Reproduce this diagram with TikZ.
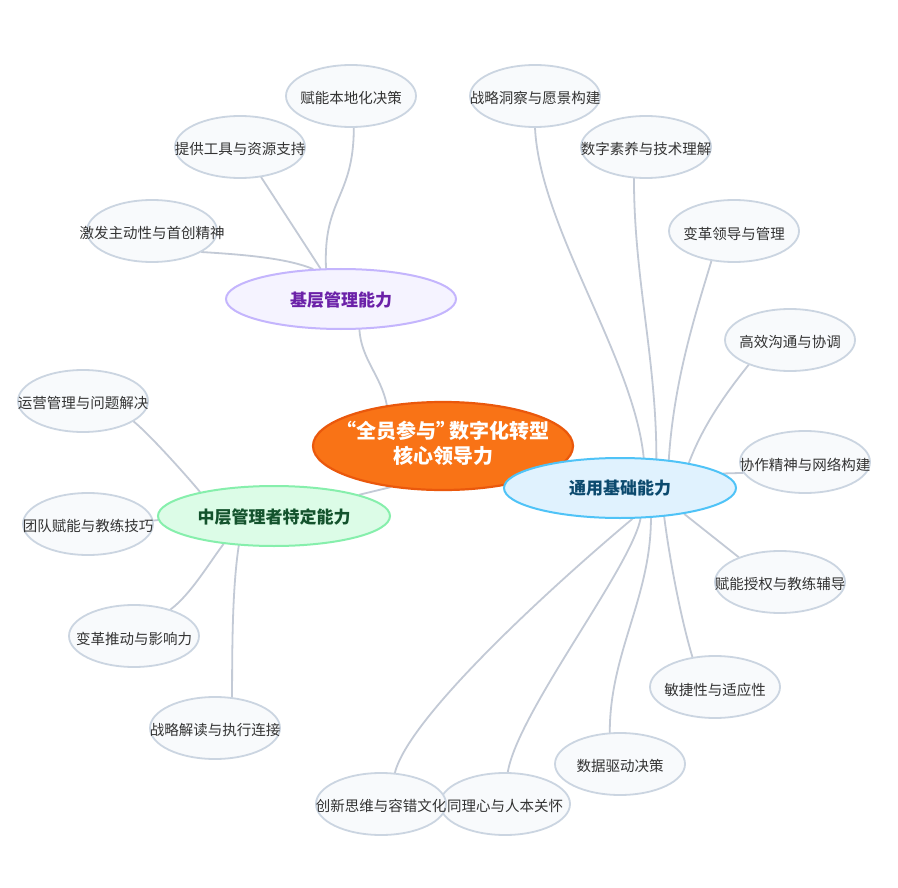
\documentclass[tikz,border=0pt]{standalone}
\usepackage{fontspec}
\setmainfont{Noto Sans CJK SC}
\usepackage{xcolor}
\usepackage{tikz}
\usetikzlibrary{shapes.geometric,backgrounds}
\definecolor{coreorange}{HTML}{F97316}
\definecolor{coreedge}{HTML}{EA580C}
\definecolor{lowerfill}{HTML}{F5F3FF}
\definecolor{loweredge}{HTML}{C4B5FD}
\definecolor{lowerink}{HTML}{6B21A8}
\definecolor{middlefill}{HTML}{DCFCE7}
\definecolor{middleedge}{HTML}{86EFAC}
\definecolor{middleink}{HTML}{14532D}
\definecolor{commonfill}{HTML}{E0F2FE}
\definecolor{commonedge}{HTML}{4FC3F7}
\definecolor{commonink}{HTML}{0C4A6E}
\definecolor{leaffill}{HTML}{F8FAFC}
\definecolor{leafedge}{HTML}{CBD5E1}
\definecolor{linkgray}{HTML}{C3CAD6}
\definecolor{ink}{HTML}{333333}
\newcommand{\nt}[2][-8pt]{\raisebox{#1}[0pt][0pt]{\makebox[0pt]{\begin{tabular}{@{}c@{}}#2\end{tabular}}}}

\begin{document}
\begin{tikzpicture}[
  x=1pt, y=-1pt,
  core/.style={ellipse, draw=coreedge, line width=2.2pt, fill=coreorange, minimum width=260pt, minimum height=88pt, inner sep=0pt, text=white, font=\fontsize{20}{24}\selectfont\bfseries},
  lowerbr/.style={ellipse, draw=loweredge, line width=2pt, fill=lowerfill, minimum width=230pt, minimum height=60pt, inner sep=0pt, text=lowerink, font=\fontsize{17}{20}\selectfont\bfseries},
  middlebr/.style={ellipse, draw=middleedge, line width=2pt, fill=middlefill, minimum width=232pt, minimum height=60pt, inner sep=0pt, text=middleink, font=\fontsize{17}{20}\selectfont\bfseries},
  commonbr/.style={ellipse, draw=commonedge, line width=2pt, fill=commonfill, minimum width=232pt, minimum height=60pt, inner sep=0pt, text=commonink, font=\fontsize{17}{20}\selectfont\bfseries},
  leaf/.style={ellipse, draw=leafedge, line width=1.8pt, fill=leaffill, minimum width=130pt, minimum height=62pt, inner sep=0pt, text=ink, font=\fontsize{14.5}{17}\selectfont},
  link/.style={draw=linkgray, line width=1.8pt, line cap=round}
]
\useasboundingbox (0,0) rectangle (898,888);

\node[core] (hub) at (443,446) {\nt[-5pt]{“全员参与”\kern-7pt数字化转型\\核心领导力}};
\node[lowerbr] (lower) at (341,299) {\nt[-7pt]{基层管理能力}};
\node[middlebr] (middle) at (274,516) {\nt[-7pt]{中层管理者特定能力}};
\node[commonbr] (common) at (620,488) {\nt[-7pt]{通用基础能力}};

\node[leaf] (lw1) at (351,96) {\nt{赋能本地化决策}};
\node[leaf] (lw2) at (240,147) {\nt{提供工具与资源支持}};
\node[leaf] (lw3) at (152,231) {\nt{激发主动性与首创精神}};

\node[leaf] (md1) at (83,401) {\nt{运营管理与问题解决}};
\node[leaf] (md2) at (88,524) {\nt{团队赋能与教练技巧}};
\node[leaf] (md3) at (134,636) {\nt{变革推动与影响力}};
\node[leaf] (md4) at (215,728) {\nt{战略解读与执行连接}};

\node[leaf] (cm1) at (535,96) {\nt{战略洞察与愿景构建}};
\node[leaf] (cm2) at (646,147) {\nt{数字素养与技术理解}};
\node[leaf] (cm3) at (734,231) {\nt{变革领导与管理}};
\node[leaf] (cm4) at (790,340) {\nt{高效沟通与协调}};
\node[leaf] (cm5) at (805,462) {\nt{协作精神与网络构建}};
\node[leaf] (cm6) at (780,582) {\nt{赋能授权与教练辅导}};
\node[leaf] (cm7) at (715,687) {\nt{敏捷性与适应性}};
\node[leaf] (cm8) at (620,764) {\nt{数据驱动决策}};
\node[leaf] (cm9) at (505,804) {\nt{同理心与人本关怀}};
\node[leaf] (cm10) at (381,804) {\nt{创新思维与容错文化}};

\begin{scope}[on background layer]
\fill[white] (0,0) rectangle (898,888);
\draw[link] (hub.144) .. controls +(-6,-30) and +(2,30) .. (lower.301);
\draw[link] (hub.218) -- (middle.14);
\draw[link] (hub) -- (common);
\draw[link] (lw1.275) .. controls +(0,70) and +(-3,-70) .. (lower.116);
\draw[link] (lw2.305) -- (lower.124);
\draw[link] (lw3.337) .. controls +(50,3) and +(-25,-10) .. (lower.133);
\draw[link] (md1.338) .. controls +(15,12) and +(-15,-18) .. (middle.162);
\draw[link] (md2.3) -- (middle.182);
\draw[link] (md3.36) .. controls +(20,-15) and +(-15,20) .. (middle.209);
\draw[link] (md4.61) .. controls +(0,-60) and +(-6,40) .. (middle.220);
\draw[link] (cm1.270) .. controls +(5,100) and +(-10,-100) .. (common.52);
\draw[link] (cm2.249) .. controls +(0,100) and +(0,-100) .. (common.39);
\draw[link] (cm3.233) .. controls +(-15,50) and +(5,-80) .. (common.30);
\draw[link] (cm4.211) .. controls +(-20,25) and +(15,-40) .. (common.20);
\draw[link] (cm5.190) -- (common.8);
\draw[link] (cm6.149) -- (common.338);
\draw[link] (cm7.127) .. controls +(-12,-40) and +(5,40) .. (common.327);
\draw[link] (cm8.108) .. controls +(0,-80) and +(0,80) .. (common.316);
\draw[link] (cm9.85) .. controls +(10,-60) and +(-10,50) .. (common.304);
\draw[link] (cm10.66) .. controls +(15,-60) and +(-60,50) .. (common.292);
\end{scope}
\end{tikzpicture}
\end{document}
